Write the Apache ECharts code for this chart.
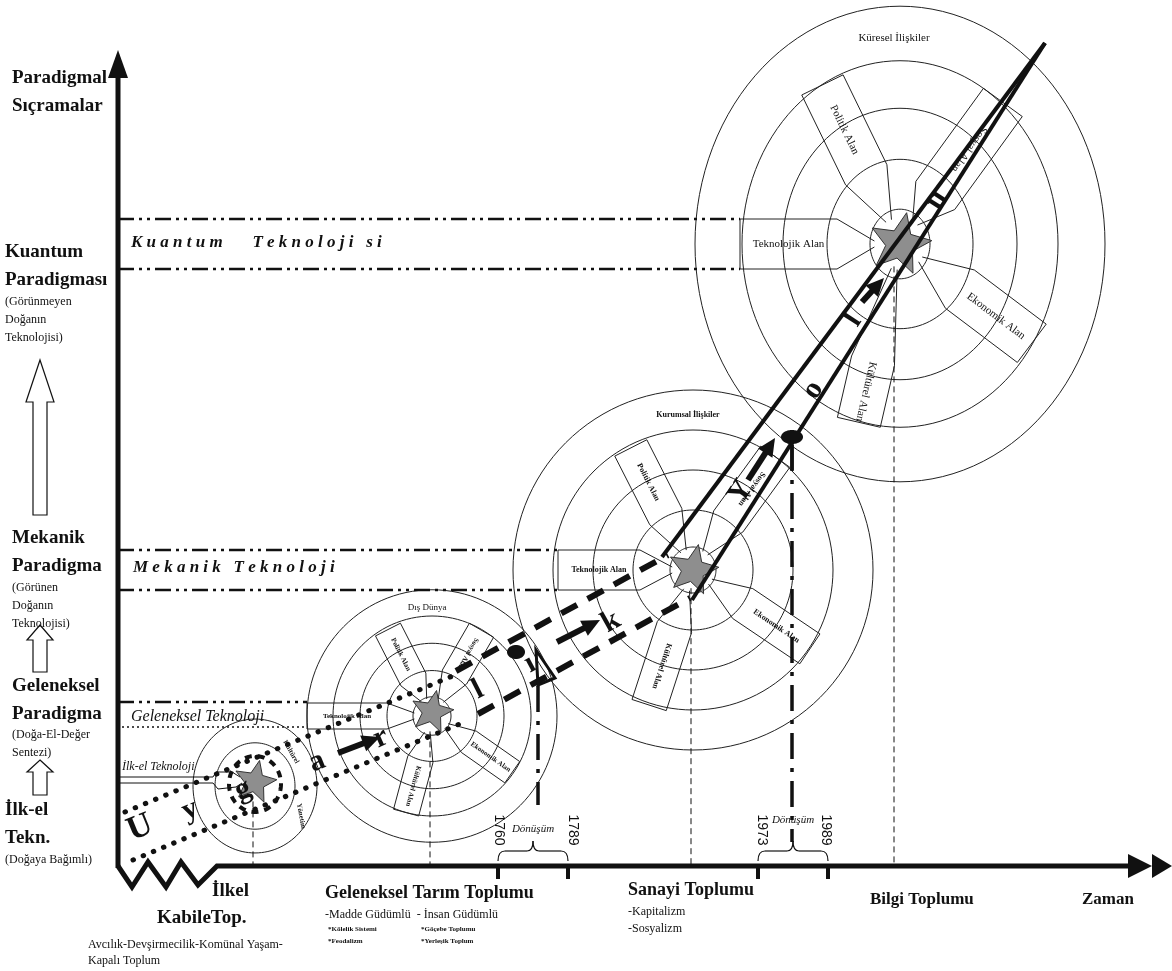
<!DOCTYPE html>
<html><head><meta charset="utf-8">
<script src="https://cdn.jsdelivr.net/npm/echarts@6/dist/echarts.min.js"></script>
<style>html,body{margin:0;padding:0;background:#fff}#c{width:1172px;height:971px}</style>
</head><body><div id="c"></div>
<script>
// ================= DATA (diagram units = axis units) =================
// concentric society circles
const ringCenters = [[255,786],[432,716],[693,570],[900,244]];
const ringRadii   = [[40,62],[19,45,72,99,125],[23,60,100,140,180],[30,73,117,158,205]];
const ringAspect  = [1.08,1.01,1.0,1.16];
const ringTitles  = ['', 'Dış Dünya', 'Kurumsal İlişkiler', 'Küresel İlişkiler'];
const starRadius  = [22,22,26,32];

// field bands inside circles 2-4
const fieldNames      = ['Teknolojik Alan','Politik Alan','Sosyal Alan','Ekonomik Alan','Kültürel Alan'];
const sectorCircle    = [1,1,1,1,1, 2,2,2,2,2, 3,3,3,3,3];
const sectorAngle     = [180,243,300,35,105, 180,243,306,34,108, 180,244,306,37,103];
const sectorInner     = [45,41,45,45,45, 53,60,60,60,60, 63,77,60,75,120];
const sectorOuter     = [125,97,99,98,100, 135,137,140,141,142, 160,177,175,165,183];
const sectorHalfWidth = [13,14,14,13,13, 20,18,18,18,18, 25,23,24,24,22];

// technology levels (horizontal dash-dot pairs)
const levelNames = ['Kuantum   Teknoloji si','Mekanik Teknoloji','Geleneksel Teknoloji','İlk-el Teknoloji'];
const levelLineY   = [219,269,550,590,702];
const levelLineEnd = [740,740,558,558,307];

// left axis: paradigms
const paradigmTitles = [['Paradigmal','Sıçramalar'],['Kuantum','Paradigması'],['Mekanik','Paradigma'],['Geleneksel','Paradigma'],['İlk-el','Tekn.']];
const paradigmNotes  = [[],['(Görünmeyen','Doğanın','Teknolojisi)'],['(Görünen','Doğanın','Teknolojisi)'],['(Doğa-El-Değer','Sentezi)'],['(Doğaya Bağımlı)']];
const paradigmTitleY = [78,252,538,686,810];
const leapArrows = [[360,402,515],[625,640,672],[760,772,795]]; // tip, head base, tail

// time axis: societies
const societies = ['İlkel\nKabileTop.','Geleneksel Tarım Toplumu','Sanayi Toplumu','Bilgi Toplumu','Zaman'];
const societyNotes = [['Avcılık-Devşirmecilik-Komünal Yaşam-','Kapalı Toplum'],['-Madde Güdümlü  - İnsan Güdümlü'],['-Kapitalizm','-Sosyalizm'],[],[]];
const societySubNotes = ['*Kölelik Sistemi','*Feodalizm','*Göçebe Toplumu','*Yerleşik Toplum'];
const eraTicks = [498,568,758,828];
const eraYears = ['1760','1789','1973','1989'];
const transitionLabel = 'Dönüşüm';
const transitionX = [538,792];
const transitionTop = [686,445];
const transitionBottom = [805,842];
const transitionPins = [[516,652],[792,437]];

// the path of civilisation ("Uygarlık Yolu")
const pathLetters = ['U','y','g','a','r','l','ı','k','Y','o','l','u'];
const pathLetterPos = [[140,828],[190,810],[243,790],[317,762],[381,738],[478,690],[530,664],[611,622],[741,492],[813,390],[853,320],[937,200]];
const pathLetterAngle = [-22,-22,-22,-22,-24,-27,-28,-29,-57,-57,-57,-57];
const dottedBand = [[[125,812],[455,675]],[[133,860],[462,723]]];
const dashedBand = [[[456,671],[668,555]],[[478,714],[690,598]]];
const rocketBand = [[[662,557],[1045,43]],[[692,600],[1045,43]]];
const pathArrows = [[[338,753],[380,737]],[[557,642],[600,620]],[[748,480],[775,438]],[[862,302],[884,278]]];

// ================= RENDERING =================
const SERIF = '"Liberation Serif","DejaVu Serif",serif';
const SANS = '"Liberation Sans","DejaVu Sans",sans-serif';
const INK = '#111';
const rad = d => d*Math.PI/180;

function custom(n, render, z){
  const data = []; for (let i=0;i<n;i++) data.push([i,0]);
  return {type:'custom', coordinateSystem:'cartesian2d', silent:true, clip:false, z:z||2,
    animation:false, data, renderItem:(params, api)=>render(params.dataIndex, api)};
}
const P = (api, pts) => pts.map(p => api.coord(p));
function line(api, a, b, style){ const A=api.coord(a), B=api.coord(b);
  return {type:'line', shape:{x1:A[0],y1:A[1],x2:B[0],y2:B[1]}, style:Object.assign({stroke:INK,lineWidth:1},style)}; }
function txt(api, s, p, o){ o=o||{}; const c=api.coord(p);
  return {type:'text', x:c[0], y:c[1], rotation:o.rot?-rad(o.rot):0,
    style:{text:s, fill:INK, fontFamily:o.family||SERIF, fontSize:o.size||12, fontWeight:o.weight||'normal',
      fontStyle:o.style||'normal', align:o.align||'left', verticalAlign:o.va||'middle', lineHeight:o.lh}}; }
function ellipse(c, rx, ry){ const pts=[]; for(let i=0;i<120;i++){const t=i/120*2*Math.PI; pts.push([c[0]+rx*Math.cos(t), c[1]+ry*Math.sin(t)]);} return pts; }
function loc(c, a, u, v){ const t=rad(a); return [c[0]+u*Math.cos(t)-v*Math.sin(t), c[1]+u*Math.sin(t)+v*Math.cos(t)]; }
function arrowHead(api, a, b, len, w){
  const dx=b[0]-a[0], dy=b[1]-a[1], L=Math.hypot(dx,dy), ux=dx/L, uy=dy/L;
  const base=[b[0]-ux*len, b[1]-uy*len];
  return {type:'polygon', shape:{points:P(api,[b,[base[0]-uy*w/2, base[1]+ux*w/2],[base[0]+uy*w/2, base[1]-ux*w/2]])}, style:{fill:INK}};
}

const series = [];

// rings
series.push(custom(ringCenters.length, (i, api) => {
  const c = ringCenters[i], k = ringAspect[i], R = ringRadii[i];
  const ch = R.map(r => ({type:'polygon', shape:{points:P(api, ellipse(c, r, r*k))}, style:{fill:'none', stroke:'#222', lineWidth:1}}));
  if (ringTitles[i]) {
    const n = R.length, rm = (R[n-1]+R[n-2])/2*k;
    ch.push(txt(api, ringTitles[i], [c[0]-[0,5,5,6][i], c[1]-rm+5], {size:[0,9,8,11][i], weight:i===2?'bold':'normal', align:'center'}));
  }
  return {type:'group', children:ch};
}, 2));

// field bands
series.push(custom(sectorAngle.length, (i, api) => {
  const ci = sectorCircle[i], c = ringCenters[ci], a = sectorAngle[i];
  const r0 = starRadius[ci]*0.8, ri = sectorInner[i], ro = sectorOuter[i], w = sectorHalfWidth[i];
  const pts = [[r0,-3],[ri,-w],[ro,-w],[ro,w],[ri,w],[r0,3]].map(q => loc(c, a, q[0], q[1]));
  const f = i % 5, um = (ri+ro)/2;
  let rot = 0;
  if (f === 1 || f === 2) rot = a - 180; else if (f === 3 || f === 4) rot = a;
  const size = ci === 3 ? 11 : (ci === 2 ? 8 : 7);
  return {type:'group', children:[
    {type:'polyline', shape:{points:P(api, pts)}, style:{fill:'none', stroke:'#222', lineWidth:1}},
    txt(api, fieldNames[f], loc(c, a, um, 0), {size, align:'center', rot, weight: ci===3?'normal':'bold'})
  ]};
}, 3));

// thin dashed drop lines from each star to the time axis
series.push(custom(ringCenters.length, (i, api) => {
  const c = ringCenters[i], x = c[0] - [2,2,2,6][i];
  return line(api, [x, c[1]+starRadius[i]*0.7], [x, 866], {lineWidth:1, lineDash:[6,4]});
}, 2));

// technology level lines
series.push(custom(levelLineY.length, (i, api) => line(api, [118, levelLineY[i]], [levelLineEnd[i], levelLineY[i]], {lineWidth:2.5, lineDash:[16,5,3,5,3,5]}), 3));
series.push(custom(1, (i, api) => ({type:'group', children:[
  line(api, [122,727], [307,727], {lineWidth:1.5, lineDash:[2,3]}),
  {type:'polyline', shape:{points:P(api, [[118,777],[213,777],[216,772],[232,772],[240,777]])}, style:{fill:'none', stroke:INK, lineWidth:1}},
  {type:'polyline', shape:{points:P(api, [[118,783],[213,783],[218,789],[236,787],[242,783]])}, style:{fill:'none', stroke:INK, lineWidth:1}},
  {type:'polygon', shape:{points:P(api, ellipse([255,784], 26, 28))}, style:{fill:'none', stroke:INK, lineWidth:4, lineDash:[7,6]}}
]}), 3));
series.push(custom(levelNames.length, (i, api) => {
  const pos = [[131,243],[133,568],[131,717],[122,767]][i];
  const s = i < 2 ? levelNames[i].split('').join(' ') : levelNames[i];
  return txt(api, s, pos, {size:[17,17,16,12][i], weight:i<2?'bold':'normal', style:'italic'});
}, 4));

// stars
series.push(custom(ringCenters.length, (i, api) => {
  const c = ringCenters[i], R = starRadius[i], pts = [];
  const cy = c[1] - [4,4,0,0][i];
  for (let k=0;k<10;k++){ const t = -Math.PI/2 + rad(12) + k*Math.PI/5, r = k%2 ? R*0.45 : R; pts.push([c[0]+r*Math.cos(t), cy+r*Math.sin(t)]); }
  return {type:'polygon', shape:{points:P(api, pts)}, style:{fill:'#8e8e8e', stroke:'#333', lineWidth:1}};
}, 5));

// path of civilisation: dotted, dashed, solid bands
series.push(custom(dottedBand.length, (i, api) => ({type:'polyline', shape:{points:P(api, dottedBand[i])}, style:{fill:'none', stroke:INK, lineWidth:5, lineCap:'round', lineDash:[0.5,10.5]}}), 6));
series.push(custom(dashedBand.length, (i, api) => ({type:'polyline', shape:{points:P(api, dashedBand[i])}, style:{fill:'none', stroke:INK, lineWidth:6, lineDash:[18,12]}}), 6));
series.push(custom(rocketBand.length, (i, api) => ({type:'polyline', shape:{points:P(api, rocketBand[i])}, style:{fill:'none', stroke:INK, lineWidth:4}}), 6));
series.push(custom(pathArrows.length, (i, api) => {
  const a = pathArrows[i][0], b = pathArrows[i][1];
  const dx=b[0]-a[0], dy=b[1]-a[1], L=Math.hypot(dx,dy);
  const m=[b[0]-dx/L*14, b[1]-dy/L*14];
  return {type:'group', children:[line(api, a, m, {lineWidth:6}), arrowHead(api, a, b, 18, 17)]};
}, 7));
series.push(custom(pathLetters.length, (i, api) => txt(api, pathLetters[i], pathLetterPos[i], {size:i===0?34:30, weight:'bold', align:'center', rot:pathLetterAngle[i]}), 7));

// transition markers (dash-dot verticals, pins)
series.push(custom(transitionX.length, (i, api) => {
  const x = transitionX[i], pin = transitionPins[i];
  const ch = [line(api, [x, transitionTop[i]], [x, transitionBottom[i]], {lineWidth:3.5, lineDash:[26,9,4,9]}),
    {type:'polygon', shape:{points:P(api, ellipse(pin, i?11:9, 7))}, style:{fill:INK}}];
  if (i === 0) ch.push({type:'polygon', shape:{points:P(api, [[536,650],[538,685],[555,678]])}, style:{fill:'none', stroke:INK, lineWidth:3}});
  else ch.push(line(api, [792, 440], [792, 470], {lineWidth:3.5}));
  return {type:'group', children:ch};
}, 6));

// axes
series.push(custom(1, (i, api) => ({type:'group', children:[
  line(api, [118,868], [118,74], {lineWidth:5}),
  {type:'polygon', shape:{points:P(api, [[108,78],[128,78],[118,50]])}, style:{fill:INK}},
  {type:'polyline', shape:{points:P(api, [[118,866],[132,887],[148,862],[166,887],[181,862],[198,885],[217,866],[1135,866]])}, style:{fill:'none', stroke:INK, lineWidth:5, lineJoin:'miter'}},
  {type:'polygon', shape:{points:P(api, [[1128,854],[1152,866],[1128,878]])}, style:{fill:INK}},
  {type:'polygon', shape:{points:P(api, [[1152,854],[1172,866],[1152,878]])}, style:{fill:INK}}
]}), 8));

// era ticks, braces, years
series.push(custom(eraTicks.length, (i, api) => {
  const x = eraTicks[i];
  const ch = [line(api, [x,866], [x,879], {lineWidth:4})];
  ch.push(txt(api, eraYears[i], [x+[1,5,4,-2][i], 830], {family:SANS, size:14, align:'center', rot:90}));
  if (i % 2 === 0) {
    const x2 = eraTicks[i+1], m = (x + x2)/2, y0 = 851, h = 10;
    const seg = (p0, cp, p1) => { const A=api.coord(p0), C=api.coord(cp), B=api.coord(p1);
      return {type:'bezierCurve', shape:{x1:A[0],y1:A[1],cpx1:C[0],cpy1:C[1],x2:B[0],y2:B[1]}, style:{fill:'none', stroke:INK, lineWidth:1.2}}; };
    ch.push(seg([x,y0+h],[x,y0],[x+7,y0]), line(api,[x+7,y0],[m-6,y0],{lineWidth:1.2}), seg([m-6,y0],[m,y0],[m,y0-h]),
      seg([m,y0-h],[m,y0],[m+6,y0]), line(api,[m+6,y0],[x2-7,y0],{lineWidth:1.2}), seg([x2-7,y0],[x2,y0],[x2,y0+h]));
    ch.push(txt(api, transitionLabel, [m, i===0 ? 829 : 820], {size:11, style:'italic', align:'center'}));
  }
  return {type:'group', children:ch};
}, 8));

// hollow leap arrows (left)
series.push(custom(leapArrows.length, (i, api) => {
  const [t, b, e] = leapArrows[i], cx = 40, hw = i===0 ? 14 : 13, sw = 7;
  return {type:'polygon', shape:{points:P(api, [[cx,t],[cx+hw,b],[cx+sw,b],[cx+sw,e],[cx-sw,e],[cx-sw,b],[cx-hw,b]])}, style:{fill:'#fff', stroke:INK, lineWidth:1.2}};
}, 4));

// paradigm labels
series.push(custom(paradigmTitles.length, (i, api) => {
  const y = paradigmTitleY[i], x = i===1||i===4 ? 5 : 12, ch = [];
  paradigmTitles[i].forEach((s, k) => ch.push(txt(api, s, [x, y + k*28], {size:19, weight:'bold'})));
  paradigmNotes[i].forEach((s, k) => ch.push(txt(api, s, [x, y + 50 + k*18 - (i===3?1:0)], {size:12})));
  return {type:'group', children:ch};
}, 4));

// society labels
series.push(custom(societies.length, (i, api) => {
  const ch = [];
  const pos = [[224,891],[325,893],[628,890],[870,900],[1082,900]][i];
  if (i === 0) {
    const parts = societies[0].split('\n');
    ch.push(txt(api, parts[0], [212,891], {size:19, weight:'bold'}));
    ch.push(txt(api, parts[1], [157,918], {size:19, weight:'bold'}));
    societyNotes[0].forEach((s,k) => ch.push(txt(api, s, [88, 945 + k*16], {size:12})));
  } else {
    ch.push(txt(api, societies[i], pos, {size:i>=3?17:18, weight:'bold'}));
    societyNotes[i].forEach((s,k) => ch.push(txt(api, s, [pos[0], pos[1] + 22 + k*17], {size:12})));
  }
  if (i === 1) societySubNotes.forEach((s,k) => ch.push(txt(api, s, [k<2?328:421, 929 + (k%2)*12], {size:7, weight:'bold'})));
  return {type:'group', children:ch};
}, 4));

// circle 1 small labels
series.push(custom(2, (i, api) => txt(api, ['Kültürel','Yönetim'][i], [[291,752],[301,816]][i], {size:7, weight:'bold', align:'center', rot:[60,80][i]}), 4));

const chart = echarts.init(document.getElementById('c'), null, {renderer:'canvas'});
chart.setOption({
  animation:false,
  backgroundColor:'#fff',
  grid:{left:0, right:0, top:0, bottom:0},
  xAxis:{type:'value', min:0, max:1172, show:false},
  yAxis:{type:'value', min:0, max:971, inverse:true, show:false},
  series
});
</script>
</body></html>
